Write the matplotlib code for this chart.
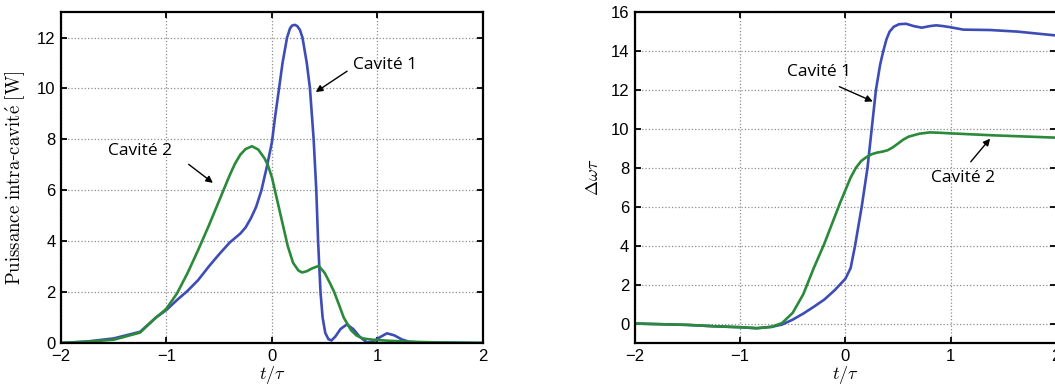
import numpy as np
import matplotlib
matplotlib.use("Agg")
import matplotlib.pyplot as plt

plt.rcParams['mathtext.fontset'] = 'cm'
plt.rcParams['font.family'] = ['Liberation Sans', 'DejaVu Sans']

# left panel: intra-cavity power
t_p1 = [-2.0, -1.75, -1.5, -1.25, -1.1, -1.0, -0.9, -0.8, -0.7, -0.6, -0.5, -0.4,
        -0.3, -0.25, -0.2, -0.15, -0.1, -0.05, 0.0, 0.03, 0.067, 0.1, 0.143, 0.17,
        0.19, 0.216, 0.24, 0.265, 0.289, 0.33, 0.36, 0.395, 0.42, 0.437, 0.46, 0.48,
        0.505, 0.535, 0.564, 0.6, 0.65, 0.71, 0.77, 0.83, 0.9, 0.96, 1.02, 1.09,
        1.16, 1.23, 1.3, 1.4, 1.6, 2.0]
p_cav1 = [0.0, 0.06, 0.18, 0.44, 1.0, 1.3, 1.69, 2.05, 2.47, 3.0, 3.49, 3.95,
          4.3, 4.54, 4.9, 5.35, 6.0, 6.9, 7.9, 8.9, 10.0, 11.0, 12.0, 12.35,
          12.47, 12.5, 12.45, 12.3, 12.0, 11.0, 10.0, 8.0, 6.0, 4.0, 2.0, 1.0,
          0.4, 0.15, 0.1, 0.25, 0.55, 0.73, 0.55, 0.25, 0.02, 0.05, 0.22, 0.38,
          0.3, 0.14, 0.05, 0.02, 0.01, 0.0]

t_p2 = [-2.0, -1.75, -1.5, -1.25, -1.1, -1.05, -1.0, -0.9, -0.8, -0.7, -0.6, -0.5,
        -0.45, -0.4, -0.35, -0.3, -0.25, -0.19, -0.13, -0.07, -0.04, 0.0, 0.05, 0.1,
        0.15, 0.2, 0.25, 0.285, 0.33, 0.38, 0.443, 0.5, 0.55, 0.59, 0.64, 0.68,
        0.75, 0.8, 0.86, 0.95, 1.1, 1.3, 1.6, 2.0]
p_cav2 = [0.0, 0.05, 0.13, 0.41, 1.0, 1.17, 1.35, 1.95, 2.75, 3.65, 4.6, 5.6,
          6.1, 6.6, 7.05, 7.4, 7.62, 7.73, 7.6, 7.25, 7.0, 6.5, 5.6, 4.7,
          3.8, 3.15, 2.85, 2.77, 2.82, 2.93, 3.03, 2.75, 2.35, 2.0, 1.45, 1.0,
          0.5, 0.3, 0.18, 0.13, 0.09, 0.05, 0.02, 0.0]

# right panel: frequency shift
t_d1 = [-2.0, -1.5, -1.25, -1.0, -0.84, -0.7, -0.6, -0.5, -0.4, -0.3, -0.2, -0.1,
        0.0, 0.05, 0.092, 0.155, 0.21, 0.25, 0.29, 0.33, 0.36, 0.39, 0.42, 0.46,
        0.51, 0.576, 0.65, 0.726, 0.8, 0.862, 0.93, 1.0, 1.12, 1.374, 1.63, 2.0]
d_cav1 = [0.0, -0.07, -0.14, -0.19, -0.24, -0.17, -0.05, 0.2, 0.51, 0.86, 1.23, 1.72,
          2.3, 2.85, 4.0, 6.0, 8.0, 10.0, 12.0, 13.3, 14.0, 14.6, 15.0, 15.25,
          15.38, 15.4, 15.28, 15.2, 15.28, 15.32, 15.28, 15.22, 15.1, 15.08, 15.0, 14.8]

t_d2 = [-2.0, -1.5, -1.25, -1.0, -0.84, -0.7, -0.6, -0.5, -0.4, -0.3, -0.2, -0.1,
        -0.05, 0.0, 0.05, 0.1, 0.15, 0.2, 0.25, 0.3, 0.35, 0.4, 0.45, 0.5,
        0.55, 0.6, 0.7, 0.8, 0.9, 1.0, 1.2, 1.4, 1.6, 1.8, 2.0]
d_cav2 = [0.0, -0.07, -0.14, -0.19, -0.24, -0.17, 0.03, 0.55, 1.5, 2.85, 4.1, 5.5,
          6.2, 6.85, 7.5, 8.0, 8.35, 8.55, 8.7, 8.78, 8.83, 8.9, 9.05, 9.25,
          9.45, 9.6, 9.75, 9.82, 9.8, 9.77, 9.72, 9.67, 9.63, 9.59, 9.55]

blue = '#3d4db5'
green = '#2a8a3a'

fig = plt.figure(figsize=(10.55, 3.87), dpi=100)
ax1 = fig.add_axes([0.0578, 0.1137, 0.4, 0.855])
ax2 = fig.add_axes([0.6016, 0.1137, 0.3994, 0.855])


def style(ax):
    for s in ax.spines.values():
        s.set_linewidth(1.6)
    ax.tick_params(direction='in', top=True, right=True, length=4, width=1.3,
                   labelsize=12, pad=4)
    ax.grid(True, linestyle=':', color='0.55', linewidth=0.9)
    ax.set_xlim(-2, 2)
    ax.set_xticks([-2, -1, 0, 1, 2])
    ax.set_xlabel(r'$t/\tau$', fontsize=13, labelpad=0)


arr = dict(arrowstyle='-|>', color='black', lw=1.0, mutation_scale=10,
           shrinkA=0, shrinkB=0)
lab = dict(fontsize=12.5, ha='left', va='center', family='Open Sans')

ax1.plot(t_p1, p_cav1, color=blue, lw=1.9)
ax1.plot(t_p2, p_cav2, color=green, lw=1.9)
style(ax1)
ax1.set_ylim(0, 13)
ax1.set_yticks(range(0, 13, 2))
ax1.set_ylabel(r'$\mathrm{Puissance\ intra}$-$\mathrm{cavit\acute{e}\ [W]}$',
               fontsize=13.5, family='DejaVu Serif', labelpad=7)
ax1.text(0.77, 10.92, 'Cavité 1', **lab)
ax1.annotate('', xy=(0.415, 9.86), xytext=(0.712, 10.68), arrowprops=arr)
ax1.text(-1.55, 7.53, 'Cavité 2', **lab)
ax1.annotate('', xy=(-0.56, 6.29), xytext=(-0.79, 7.02), arrowprops=arr)

ax2.plot(t_d1, d_cav1, color=blue, lw=1.9)
ax2.plot(t_d2, d_cav2, color=green, lw=1.9)
style(ax2)
ax2.set_ylim(-1, 16)
ax2.set_yticks(range(0, 17, 2))
ax2.set_ylabel(r'$\Delta\omega\tau$', fontsize=13, labelpad=6)
ax2.text(-0.55, 12.93, 'Cavité 1', **lab)
ax2.annotate('', xy=(0.26, 11.41), xytext=(-0.057, 12.17), arrowprops=arr)
ax2.text(0.81, 7.46, 'Cavité 2', **lab)
ax2.annotate('', xy=(1.374, 9.5), xytext=(1.19, 8.31), arrowprops=arr)

fig.savefig('out.png', dpi=100)
